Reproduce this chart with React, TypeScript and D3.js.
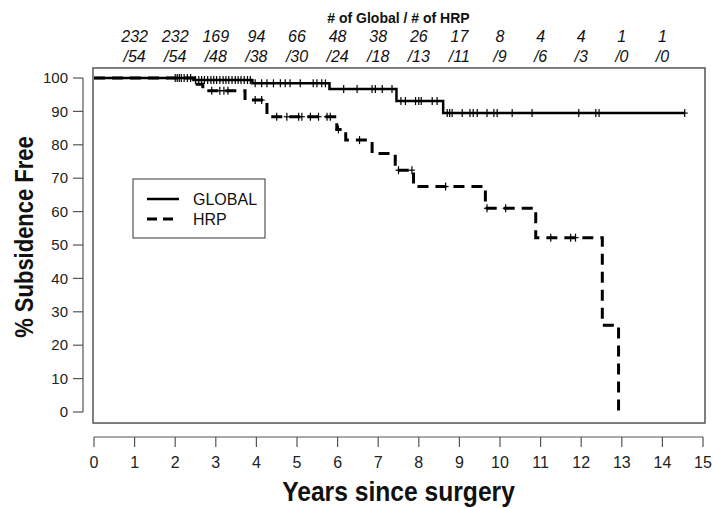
import * as d3 from "d3";

// Kaplan-Meier steps (years, % free)
const globalTimes = [0, 2.45, 3.9, 5.8, 7.45, 8.6, 14.55];
const globalSurv = [100, 99.4, 98.4, 96.7, 93.1, 89.5, 89.5];

const hrpTimes = [0, 2.45, 2.68, 3.72, 4.26, 5.98, 6.2, 6.85, 7.42, 7.87, 9.64, 10.88, 12.52, 12.92];
const hrpSurv = [100, 98.1, 96.2, 93.4, 88.4, 84.6, 81.4, 77.4, 72.4, 67.5, 61, 52.2, 26, 0];

// censoring marks (years)
const globalCensor = [
  2.0, 2.05, 2.1, 2.15, 2.22, 2.3, 2.38, 2.5, 2.58, 2.65, 2.72, 2.8, 2.88, 2.95, 3.02, 3.1,
  3.18, 3.25, 3.32, 3.4, 3.48, 3.55, 3.62, 3.7, 3.78, 3.85, 3.97, 4.13, 4.26, 4.42, 4.59,
  4.71, 4.83, 5.08, 5.4, 5.49, 5.61, 5.7, 6.15, 6.48, 6.85, 6.93, 7.1, 7.34, 7.56, 7.67,
  7.92, 8.0, 8.06, 8.33, 8.45, 8.7, 8.76, 8.82, 9.07, 9.26, 9.34, 9.44, 9.68, 9.85, 9.93,
  10.3, 10.79, 11.94, 12.36, 12.44, 14.55,
];
const hrpCensor = [
  2.9, 3.1, 3.2, 3.3, 3.97, 4.13, 4.5, 4.75, 5.04, 5.12, 5.33, 5.53, 5.74, 5.82, 6.02,
  6.54, 7.5, 7.83, 8.66, 9.68, 10.14, 11.25, 11.74, 11.86,
];

// numbers at risk above the plot
const riskYears = [1, 2, 3, 4, 5, 6, 7, 8, 9, 10, 11, 12, 13, 14];
const riskGlobal = ["232", "232", "169", "94", "66", "48", "38", "26", "17", "8", "4", "4", "1", "1"];
const riskHrp = ["/54", "/54", "/48", "/38", "/30", "/24", "/18", "/13", "/11", "/9", "/6", "/3", "/0", "/0"];

const xTicks = d3.range(0, 16);
const yTicks = d3.range(0, 101, 10);

const width = 713;
const height = 508;
const font = "'Liberation Sans', Arial, sans-serif";
const gray = "#555";

const x = d3.scaleLinear().domain([0, 15]).range([94, 703]);
const y = d3.scaleLinear().domain([0, 100]).range([412, 78]);

function stepValue(times: number[], surv: number[], t: number) {
  const i = d3.bisectRight(times, t) - 1;
  return surv[Math.max(0, i)];
}

export default function App() {
  const line = d3
    .line<[number, number]>()
    .x((d) => x(d[0]))
    .y((d) => y(d[1]))
    .curve(d3.curveStepAfter);

  const globalPath = line(globalTimes.map((t, i) => [t, globalSurv[i]]))!;
  const hrpPath = line(hrpTimes.map((t, i) => [t, hrpSurv[i]]))!;

  const boxL = x(0) - 1;
  const boxR = x(15) + 2;
  const boxT = y(103);
  const boxB = y(-3.3);
  const xAxisY = 437;
  const yAxisX = 83;

  const cross = (t: number, v: number, key: string) => {
    const cx = x(t);
    const cy = y(v);
    return (
      <g key={key} stroke="#000" strokeWidth={1.2}>
        <line x1={cx} x2={cx} y1={cy - 4} y2={cy + 4} />
        <line x1={cx - 3} x2={cx + 3} y1={cy} y2={cy} />
      </g>
    );
  };

  return (
    <svg
      width={width}
      height={height}
      style={{ position: "absolute", left: 0, top: 0, background: "#fff" }}
      fontFamily={font}
    >
      {/* header */}
      <text x={x(7.5)} y={23} textAnchor="middle" fontSize={14} fontWeight="bold" fill="#111">
        # of Global / # of HRP
      </text>
      {riskYears.map((yr, i) => (
        <g key={yr} fontStyle="italic" fontSize={16} fill="#111" textAnchor="middle">
          <text x={x(yr)} y={42}>{riskGlobal[i]}</text>
          <text x={x(yr)} y={62}>{riskHrp[i]}</text>
        </g>
      ))}

      {/* plot box */}
      <rect x={boxL} y={boxT} width={boxR - boxL} height={boxB - boxT} fill="none" stroke={gray} strokeWidth={1.5} />

      {/* y axis */}
      <line x1={yAxisX} x2={yAxisX} y1={y(0)} y2={y(100)} stroke={gray} strokeWidth={1.2} />
      {yTicks.map((t) => (
        <g key={t}>
          <line x1={yAxisX - 10} x2={yAxisX} y1={y(t)} y2={y(t)} stroke={gray} strokeWidth={1.2} />
          <text x={yAxisX - 15} y={y(t)} dy="0.35em" textAnchor="end" fontSize={15} fill="#222">
            {t}
          </text>
        </g>
      ))}
      <text
        transform={`translate(24,237) rotate(-90) scale(0.88,1)`}
        textAnchor="middle"
        dy="0.35em"
        fontSize={25}
        fontWeight="bold"
        fill="#111"
      >
        % Subsidence Free
      </text>

      {/* x axis */}
      <line x1={x(0)} x2={x(15)} y1={xAxisY} y2={xAxisY} stroke={gray} strokeWidth={1.2} />
      {xTicks.map((t) => (
        <g key={t}>
          <line x1={x(t)} x2={x(t)} y1={xAxisY} y2={xAxisY + 10} stroke={gray} strokeWidth={1.2} />
          <text x={x(t)} y={468} textAnchor="middle" fontSize={16} fill="#222">
            {t}
          </text>
        </g>
      ))}
      <text
        transform={`translate(${x(7.5)},501) scale(0.88,1)`}
        textAnchor="middle"
        fontSize={28}
        fontWeight="bold"
        fill="#111"
      >
        Years since surgery
      </text>

      {/* curves */}
      <path d={globalPath} fill="none" stroke="#000" strokeWidth={2.5} />
      <path d={hrpPath} fill="none" stroke="#000" strokeWidth={3} strokeDasharray="11 7" />
      {globalCensor.map((t, i) => cross(t, stepValue(globalTimes, globalSurv, t), `g${i}`))}
      {hrpCensor.map((t, i) => cross(t, stepValue(hrpTimes, hrpSurv, t), `h${i}`))}

      {/* legend */}
      <rect x={133} y={179} width={132} height={59} fill="#fff" stroke={gray} strokeWidth={1.2} />
      <line x1={147} x2={179} y1={199} y2={199} stroke="#000" strokeWidth={2.5} />
      <line x1={147} x2={179} y1={219} y2={219} stroke="#000" strokeWidth={3} strokeDasharray="10 6" />
      <text x={193} y={199} dy="0.35em" fontSize={16} fill="#111">GLOBAL</text>
      <text x={193} y={219} dy="0.35em" fontSize={16} fill="#111">HRP</text>
    </svg>
  );
}
